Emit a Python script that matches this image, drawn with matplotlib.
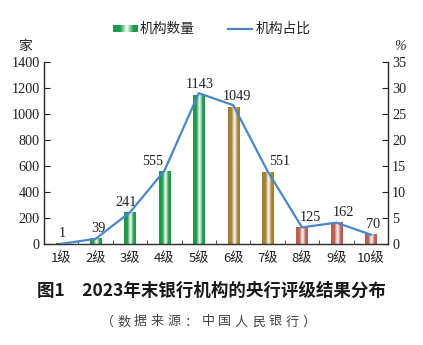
import matplotlib
matplotlib.use("Agg")
import matplotlib.pyplot as plt
import numpy as np
from matplotlib.colors import LinearSegmentedColormap

plt.rcParams['font.family'] = ['Liberation Serif', 'Noto Sans CJK SC', 'DejaVu Sans']

categories = ["1级", "2级", "3级", "4级", "5级", "6级", "7级", "8级", "9级", "10级"]
counts = [1, 39, 241, 555, 1143, 1049, 551, 125, 162, 70]
shares = [0.03, 0.99, 6.1, 14.1, 29.0, 26.7, 14.0, 3.2, 4.1, 1.8]
groups = ["g", "g", "g", "g", "g", "y", "y", "r", "r", "r"]
left_ticks = [0, 200, 400, 600, 800, 1000, 1200, 1400]
right_ticks = [0, 5, 10, 15, 20, 25, 30, 35]
title = "图1　2023年末银行机构的央行评级结果分布"
source = "（数据来源：中国人民银行）"

# label horizontal offsets (px) to avoid the line
label_dx = [1, 3, -4, -12, 1, 4, 12, 8, 7, 2]

edge_colors = {"g": "#1f9a4b", "y": "#a5802f", "r": "#bb5d55"}

def make_cmap(c):
    return LinearSegmentedColormap.from_list(
        "c", [(0, c), (0.28, c), (0.55, "#ffffff"), (0.82, c), (1, c)])

W, H = 423, 345
fig = plt.figure(figsize=(W / 100, H / 100), dpi=100)
ax_l, ax_r, ax_b, ax_t = 44, 388, 244, 62
ax = fig.add_axes([ax_l / W, 1 - ax_b / H, (ax_r - ax_l) / W, (ax_b - ax_t) / H])

fs = 10.3
bw = 0.32
grad = np.linspace(0, 1, 64).reshape(1, -1)
for i, (v, g) in enumerate(zip(counts, groups)):
    ax.imshow(grad, extent=[i - bw / 2, i + bw / 2, 0, v], aspect='auto',
              cmap=make_cmap(edge_colors[g]), zorder=2, interpolation='bilinear')
    ax.annotate(str(v), (i, v), xytext=(label_dx[i] * 0.72, 3), textcoords='offset points',
                ha='center', va='bottom', fontsize=fs, color='#222222',
                family=['Liberation Serif'], zorder=5)

ax.set_xlim(-0.5, len(categories) - 0.5)
ax.set_ylim(0, 1400)
ax.set_yticks(left_ticks)
ax.set_xticks(range(len(categories)))
ax.set_xticklabels(categories, family=['Noto Sans CJK SC'], fontsize=9.5)
ax.set_xticks(np.arange(0.5, len(categories) - 0.5, 1), minor=True)
ax.tick_params(axis='x', which='major', length=0, pad=6, colors='#222222')
ax.tick_params(axis='x', which='minor', direction='in', length=3, color='#333333')
ax.tick_params(axis='y', direction='in', length=4, labelsize=fs, pad=3, colors='#222222')
for s in ['top']:
    ax.spines[s].set_visible(False)
for s in ['left', 'right', 'bottom']:
    ax.spines[s].set_color('#333333')
    ax.spines[s].set_linewidth(0.9)

ax2 = ax.twinx()
ax2.plot(range(len(categories)), shares, color='#4a86c8', lw=1.6, zorder=4)
ax2.set_ylim(0, 35)
ax2.set_yticks(right_ticks)
ax2.tick_params(axis='y', direction='in', length=4, labelsize=fs, pad=3, colors='#222222')
ax2.spines['top'].set_visible(False)
for s in ['left', 'right', 'bottom']:
    ax2.spines[s].set_color('#333333')
    ax2.spines[s].set_linewidth(0.9)

# unit labels
fig.text(25.5 / W, 1 - 46 / H, "家", ha='center', va='center', fontsize=10,
         family=['Noto Sans CJK SC'], color='#222222')
fig.text(400 / W, 1 - 46 / H, "%", ha='center', va='center', fontsize=10,
         family=['Liberation Serif'], color='#222222', style='italic')

# legend (manual)
lax = fig.add_axes([113 / W, 1 - 32 / H, 24 / W, 7 / H])
lax.imshow(grad, aspect='auto', cmap=make_cmap(edge_colors["g"]), extent=[0, 1, 0, 1])
lax.axis('off')
fig.text(140 / W, 1 - 28.5 / H, "机构数量", ha='left', va='center', fontsize=9.9,
         family=['Noto Sans CJK SC'], color='#222222')
fig.add_artist(plt.Line2D([228 / W, 252 / W], [1 - 28.5 / H, 1 - 28.5 / H],
                          transform=fig.transFigure, color='#4a86c8', lw=1.6))
fig.text(256 / W, 1 - 28.5 / H, "机构占比", ha='left', va='center', fontsize=9.9,
         family=['Noto Sans CJK SC'], color='#222222')

# title
fig.text(211 / W, 1 - 291 / H, title, ha='center', va='center', fontsize=12.6,
         fontweight='bold', family=['Noto Sans CJK SC'], color='#1a1a1a')

# source with letter spacing
chars = list(source)
x0, pitch = 107, 16.8
for k, ch in enumerate(chars):
    fig.text((x0 + k * pitch) / W, 1 - 322 / H, ch, ha='center', va='center',
             fontsize=9.4, family=['Noto Sans CJK SC'], color='#444444')

fig.savefig("out.png", dpi=100)
